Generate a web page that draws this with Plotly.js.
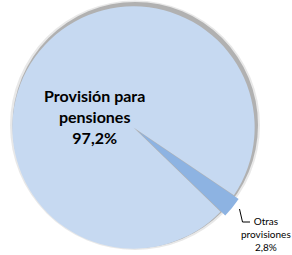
<!DOCTYPE html>
<html>
<head>
<meta charset="utf-8">
<script src="https://cdn.plot.ly/plotly-3.0.1.min.js"></script>
<style>html,body{margin:0;padding:0;background:#fff;}#chart{width:292px;height:255px;}</style>
</head>
<body>
<div id="chart"></div>
<script>
const labels = ["Otras provisiones", "Provisión para pensiones"];
const labelLines = [["Otras", "provisiones"], ["Provisión para", "pensiones"]];
const values = [2.8, 97.2];
const colors = ["#8DB3E2", "#C6D9F1"];

function fmt(v) { return v.toFixed(1).replace(".", ",") + "%"; }

const trace = {
  type: "pie",
  labels: labels,
  values: values,
  sort: false,
  direction: "clockwise",
  rotation: 124,
  pull: [0.05, 0],
  textinfo: "none",
  hoverinfo: "label+percent",
  marker: { colors: colors, line: { width: 0 } },
  domain: { x: [0.0216, 0.8928], y: [0.0, 1] },
  showlegend: false
};

const W = 292, H = 255;
function px(x) { return x / W; }
function py(y) { return 1 - y / H; }

const layout = {
  width: W, height: H,
  margin: { l: 0, r: 0, t: 0, b: 0 },
  paper_bgcolor: "#ffffff",
  showlegend: false,
  shapes: [
    { type: "circle", xref: "paper", yref: "paper", layer: "below",
      x0: px(10), x1: px(260), y0: py(250), y1: py(0.5),
      fillcolor: "rgba(150,150,150,0.22)", line: { width: 0 } },
    { type: "circle", xref: "paper", yref: "paper", layer: "below",
      x0: px(12.5), x1: px(258), y0: py(248), y1: py(2),
      fillcolor: "rgba(110,110,110,0.45)", line: { width: 0 } },
    { type: "path", xref: "paper", yref: "paper",
      path: "M " + px(239.5) + " " + py(209) + " L " + px(242.5) + " " + py(222) + " L " + px(250) + " " + py(222),
      line: { color: "#000000", width: 1 } }
  ],
  annotations: [
    { xref: "paper", yref: "paper", x: px(94), y: py(116.5),
      xanchor: "center", yanchor: "middle",
      text: "<b>" + labelLines[1].join("<br>") + "<br>" + fmt(values[1]) + "</b>",
      showarrow: false, align: "center",
      font: { family: "Lato, 'Open Sans', sans-serif", size: 16, color: "#000000" } },
    { xref: "paper", yref: "paper", x: px(265.5), y: py(234),
      xanchor: "center", yanchor: "middle",
      text: labelLines[0].join("<br>") + "<br>" + fmt(values[0]),
      showarrow: false, align: "center",
      font: { family: "Lato, 'Open Sans', sans-serif", size: 10, color: "#000000" } }
  ]
};

Plotly.newPlot("chart", [trace], layout, { displayModeBar: false, staticPlot: true });
</script>
</body>
</html>
